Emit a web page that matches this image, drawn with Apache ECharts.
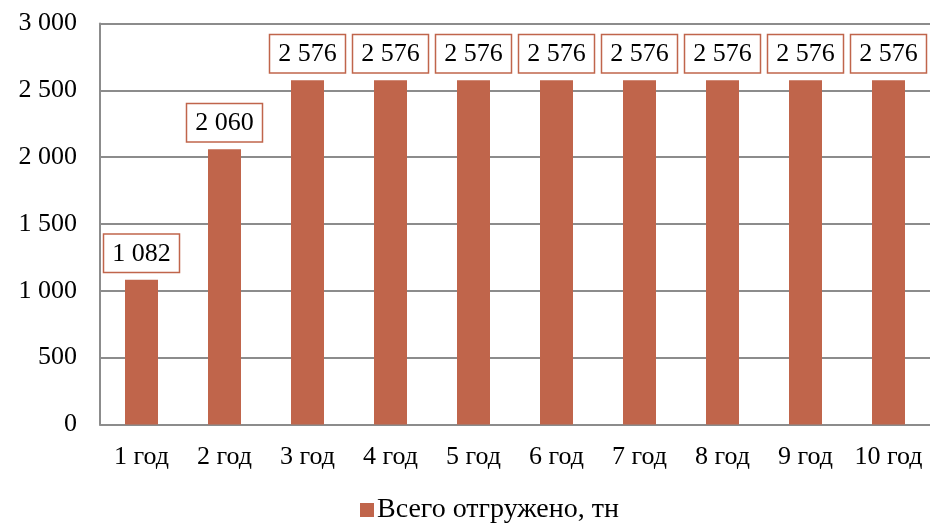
<!DOCTYPE html>
<html>
<head>
<meta charset="utf-8">
<style>
  html, body { margin: 0; padding: 0; background: #ffffff; }
  #chart { width: 930px; height: 526px; }
</style>
<script src="https://cdn.jsdelivr.net/npm/echarts@6/dist/echarts.min.js"></script>
</head>
<body>
<div id="chart"></div>
<script>
// Shipments by year
const categories = ['1 год', '2 год', '3 год', '4 год', '5 год', '6 год', '7 год', '8 год', '9 год', '10 год'];
const shipped = [1082, 2060, 2576, 2576, 2576, 2576, 2576, 2576, 2576, 2576];
const seriesName = 'Всего отгружено, тн';

const FONT = '"Liberation Serif", "Times New Roman", serif';
const BAR = '#c0654b';
const GRID = '#8c8c8c';

// thousands separated by a space: 2576 -> "2 576"
function fmt(v) {
  return String(v).replace(/\B(?=(\d{3})+(?!\d))/g, ' ');
}

const chart = echarts.init(document.getElementById('chart'), null, { renderer: 'canvas' });
chart.setOption({
  animation: false,
  backgroundColor: '#ffffff',
  textStyle: { fontFamily: FONT },
  grid: { left: 100, top: 23.5, width: 833, height: 401, containLabel: false },
  legend: {
    top: 491,
    left: 355,
    padding: 5,
    itemWidth: 14,
    itemHeight: 14,
    itemGap: 6,
    icon: 'rect',
    textStyle: { fontFamily: FONT, fontSize: 28, color: '#000', padding: [3, 0, 0, -2] },
    data: [seriesName]
  },
  xAxis: {
    type: 'category',
    data: categories,
    axisLine: { lineStyle: { color: GRID, width: 2 } },
    axisTick: { show: false },
    axisLabel: { interval: 0, fontFamily: FONT, fontSize: 26, color: '#000', margin: 20 }
  },
  yAxis: {
    type: 'value',
    min: 0,
    max: 3000,
    interval: 500,
    axisLine: { show: true, lineStyle: { color: GRID, width: 2 } },
    axisTick: { show: false },
    splitLine: { lineStyle: { color: GRID, width: 2 } },
    axisLabel: { fontFamily: FONT, fontSize: 26, color: '#000', margin: 23, formatter: fmt }
  },
  series: [{
    name: seriesName,
    type: 'bar',
    data: shipped,
    barWidth: 33,
    itemStyle: { color: BAR },
    label: {
      show: true,
      position: 'top',
      distance: 8,
      formatter: p => fmt(p.value),
      fontFamily: FONT,
      fontSize: 26,
      color: '#000',
      backgroundColor: '#ffffff',
      borderColor: BAR,
      borderWidth: 1.5,
      padding: [6, 8, 5, 8]
    }
  }]
});
</script>
</body>
</html>
